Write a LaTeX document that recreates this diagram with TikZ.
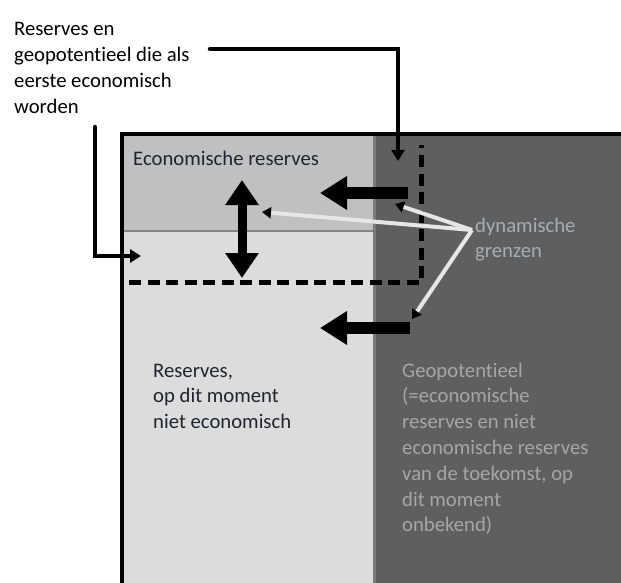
\documentclass[tikz,border=0pt]{standalone}
\usepackage{fontspec}
\setmainfont[Ligatures=NoCommon]{Carlito}
\usetikzlibrary{arrows.meta}
\definecolor{econ}{HTML}{C0C0C0}
\definecolor{nonecon}{HTML}{DCDCDC}
\definecolor{geo}{HTML}{5F5F5F}
\definecolor{geotext}{HTML}{A6A6A6}
\definecolor{dyntext}{HTML}{A5ADB5}
\definecolor{dynline}{HTML}{E6E6E6}
\definecolor{sepline}{HTML}{858585}
\definecolor{edgeline}{HTML}{7A7A7A}
\definecolor{econtext}{HTML}{1E2530}
\begin{document}
\begin{tikzpicture}[x=1pt,y=-1pt,
  txt/.style={font=\fontsize{20.7}{25.8}\selectfont, inner sep=0pt, align=left, anchor=base west},
  fatarrow/.style={line width=12pt, -{Triangle[length=27pt,width=32pt]}},
  dblarrow/.style={line width=9pt, {Triangle[length=25pt,width=32pt]}-{Triangle[length=25pt,width=32pt]}},
  callarrow/.style={line width=4.5pt, line cap=round, -{Triangle[length=11pt,width=13pt]}},
  dashline/.style={line width=5pt, dash pattern=on 12pt off 6.5pt},
  dynarrow/.style={dynline, line width=4pt, -{Triangle[length=9pt,width=11pt,color=black]}}
]
\useasboundingbox (0,0) rectangle (621,583);
% regions
\fill[econ] (122,134) rectangle (373,231);
\fill[nonecon] (122,231) rectangle (373,590);
\fill[geo] (373,134) rectangle (630,590);
\draw[sepline, line width=2.5pt] (124,231) -- (373,231);
\draw[edgeline, line width=3pt] (374,136) -- (374,590);
\draw[line width=4pt] (122,595) -- (122,134.5) -- (630,134.5);

% texts (anchor = baseline of the last line)
\node[txt] (callout) at (14,113.4) {Reserves en\\geopotentieel die als\\eerste economisch\\worden};
\node[txt, text=econtext] (econ) at (133,165) {Economische reserves};
\node[txt, text=econtext] (nonecon) at (153,428.6) {Reserves,\\op dit moment\\niet economisch};
\node[txt, text=geotext] (geo) at (402,531.8) {Geopotentieel\\(=economische\\reserves en niet\\economische reserves\\van de toekomst, op\\dit moment\\onbekend)};
\node[txt, text=dyntext] (dyn) at (475,257.8) {dynamische\\grenzen};

% dashed boundary
\coordinate (d1) at (129,282);
\coordinate (d2) at (421,145);
\draw[dashline] (d1) -| (d2);

% callout connectors
\coordinate (c1s) at (210,49);
\coordinate (c1t) at (398,161);
\draw[callarrow] (c1s) -| (c1t);
\coordinate (c2s) at (95,127);
\coordinate (c2t) at (141,256);
\draw[callarrow] (c2s) |- (c2t);

% big arrows
\coordinate (a1s) at (408,193);
\coordinate (a1t) at (320,193);
\draw[fatarrow] (a1s) -- (a1t);
\coordinate (a2s) at (410,328);
\coordinate (a2t) at (320,328);
\draw[fatarrow] (a2s) -- (a2t);
\coordinate (v1) at (242,180);
\coordinate (v2) at (242,278);
\draw[dblarrow] (v1) -- (v2);

% dynamic boundary pointers
\coordinate (apex) at (472,230);
\coordinate (p1) at (262,212);
\coordinate (p2) at (395,204);
\coordinate (p3) at (412,319);
\draw[dynarrow] (apex) -- (p1);
\draw[dynarrow] (apex) -- (p2);
\draw[dynarrow] (apex) -- (p3);
\end{tikzpicture}
\end{document}
